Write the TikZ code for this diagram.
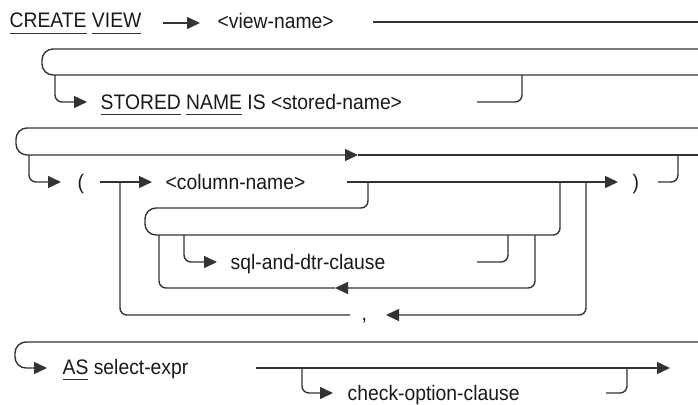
\documentclass[tikz,border=0pt]{standalone}
\usepackage{fontspec}
\setmainfont{Liberation Sans}[FakeStretch=0.92]
\usetikzlibrary{arrows.meta}

\definecolor{railgray}{gray}{0.2}
\definecolor{inkgray}{gray}{0.1}
\newcommand{\ukw}[1]{\setbox0\hbox{#1}\rlap{\color{railgray}\rule[-6pt]{\wd0}{0.9pt}}\box0\relax}

\begin{document}
\begin{tikzpicture}[x=1pt, y=-1pt, >={Triangle[length=13pt,width=12pt]}, line width=1.4pt,
    rail/.style={draw=railgray, rounded corners=7pt},
    paren/.style={draw=railgray, rounded corners=11pt},
    term/.style={anchor=base west, inner sep=0pt, text=inkgray, font=\fontsize{21}{25}\selectfont}]
    \useasboundingbox (0,0) rectangle (698,404);

    % CREATE VIEW <view-name>
    \node[term] (create) at (9,28) {\ukw{CREATE} \ukw{VIEW}};
    \node[term] (vname) at (217,29) {<view-name>};
    \coordinate (cv) at (163,23);
    \coordinate (vn) at (200,23);
    \coordinate (vnend) at (373,22);
    \coordinate (e1) at (698,22);
    \draw[rail, ->] (cv) -- (vn);
    \draw[rail] (vnend) -- (e1);

    % STORED NAME IS
    \coordinate (s2top) at (698,49);
    \coordinate (s2bot) at (698,75);
    \draw[paren] (s2top) -- (42,49) -- (42,75) -- (s2bot);
    \node[term] (stored) at (100,109) {\ukw{STORED} \ukw{NAME} IS <stored-name>};
    \coordinate (stin) at (55,75);
    \coordinate (starr) at (87,102);
    \coordinate (stend) at (477,102);
    \coordinate (stout) at (522,75);
    \draw[rail, ->] (stin) |- (starr);
    \draw[rail] (stend) -| (stout);

    % ( <column-name> )
    \coordinate (s3top) at (698,128);
    \coordinate (s3arr) at (358,155);
    \coordinate (s3bot) at (698,155);
    \draw[paren, ->] (s3top) -- (16,128) -- (16,155) -- (s3arr);
    \draw[rail] (s3arr) -- (s3bot);
    \coordinate (lpin) at (29,155);
    \coordinate (lparr) at (61,182);
    \draw[rail, ->] (lpin) |- (lparr);
    \node[term] (lparen) at (77,189) {(};
    \coordinate (rpin) at (658,182);
    \coordinate (rpout) at (678,155);
    \draw[rail] (rpin) -| (rpout);
    \node[term] (rparen) at (632,189) {)};

    \coordinate (cstart) at (100,182);
    \coordinate (carr) at (152,182);
    \draw[rail, ->] (cstart) -- (carr);
    \node[term] (colname) at (165,189) {<column-name>};
    \coordinate (cnend) at (347,182);
    \coordinate (cnarr) at (618,182);
    \draw[rail, ->] (cnend) -- (cnarr);

    % comma loop
    \coordinate (lpl) at (120,182);
    \coordinate (lpr) at (586,182);
    \coordinate (cml) at (350,315);
    \coordinate (cmarr) at (386,315);
    \draw[rail] (lpl) |- (cml);
    \draw[rail, ->] (lpr) |- (cmarr);
    \node[term] (comma) at (361,320) {,};

    % sql-and-dtr-clause
    \coordinate (sqa) at (368,182);
    \coordinate (sqt) at (250,208);
    \coordinate (sqm) at (300,235);
    \coordinate (sqb) at (560,182);
    \draw[rail] (sqa) |- (sqt);
    \draw[paren] (sqt) -- (145,208) -- (145,235) -- (sqm);
    \draw[rail] (sqm) -| (sqb);
    \coordinate (sdin) at (184,235);
    \coordinate (sdarr) at (217,262);
    \draw[rail, ->] (sdin) |- (sdarr);
    \node[term] (sqldtr) at (230,269) {sql-and-dtr-clause};
    \coordinate (sdend) at (477,262);
    \coordinate (sdout) at (508,235);
    \draw[rail] (sdend) -| (sdout);
    \coordinate (olr) at (535,235);
    \coordinate (olarr) at (335,288);
    \coordinate (oll) at (159,235);
    \draw[rail, ->] (olr) |- (olarr);
    \draw[rail] (olarr) -| (oll);

    % AS select-expr
    \coordinate (s5top) at (698,342);
    \coordinate (asarr) at (47,368);
    \draw[paren, ->] (s5top) -- (15,342) -- (15,368) -- (asarr);
    \node[term] (asexpr) at (62,374) {\ukw{AS} select-expr};
    \coordinate (seend) at (256,368);
    \coordinate (searr) at (670,368);
    \draw[rail, ->] (seend) -- (searr);
    \coordinate (coin) at (302,368);
    \coordinate (coarr) at (333,393);
    \draw[rail, ->] (coin) |- (coarr);
    \node[term] (checkopt) at (347,400) {check-option-clause};
    \coordinate (coend) at (606,393);
    \coordinate (coout) at (627,368);
    \draw[rail] (coend) -| (coout);
\end{tikzpicture}
\end{document}
